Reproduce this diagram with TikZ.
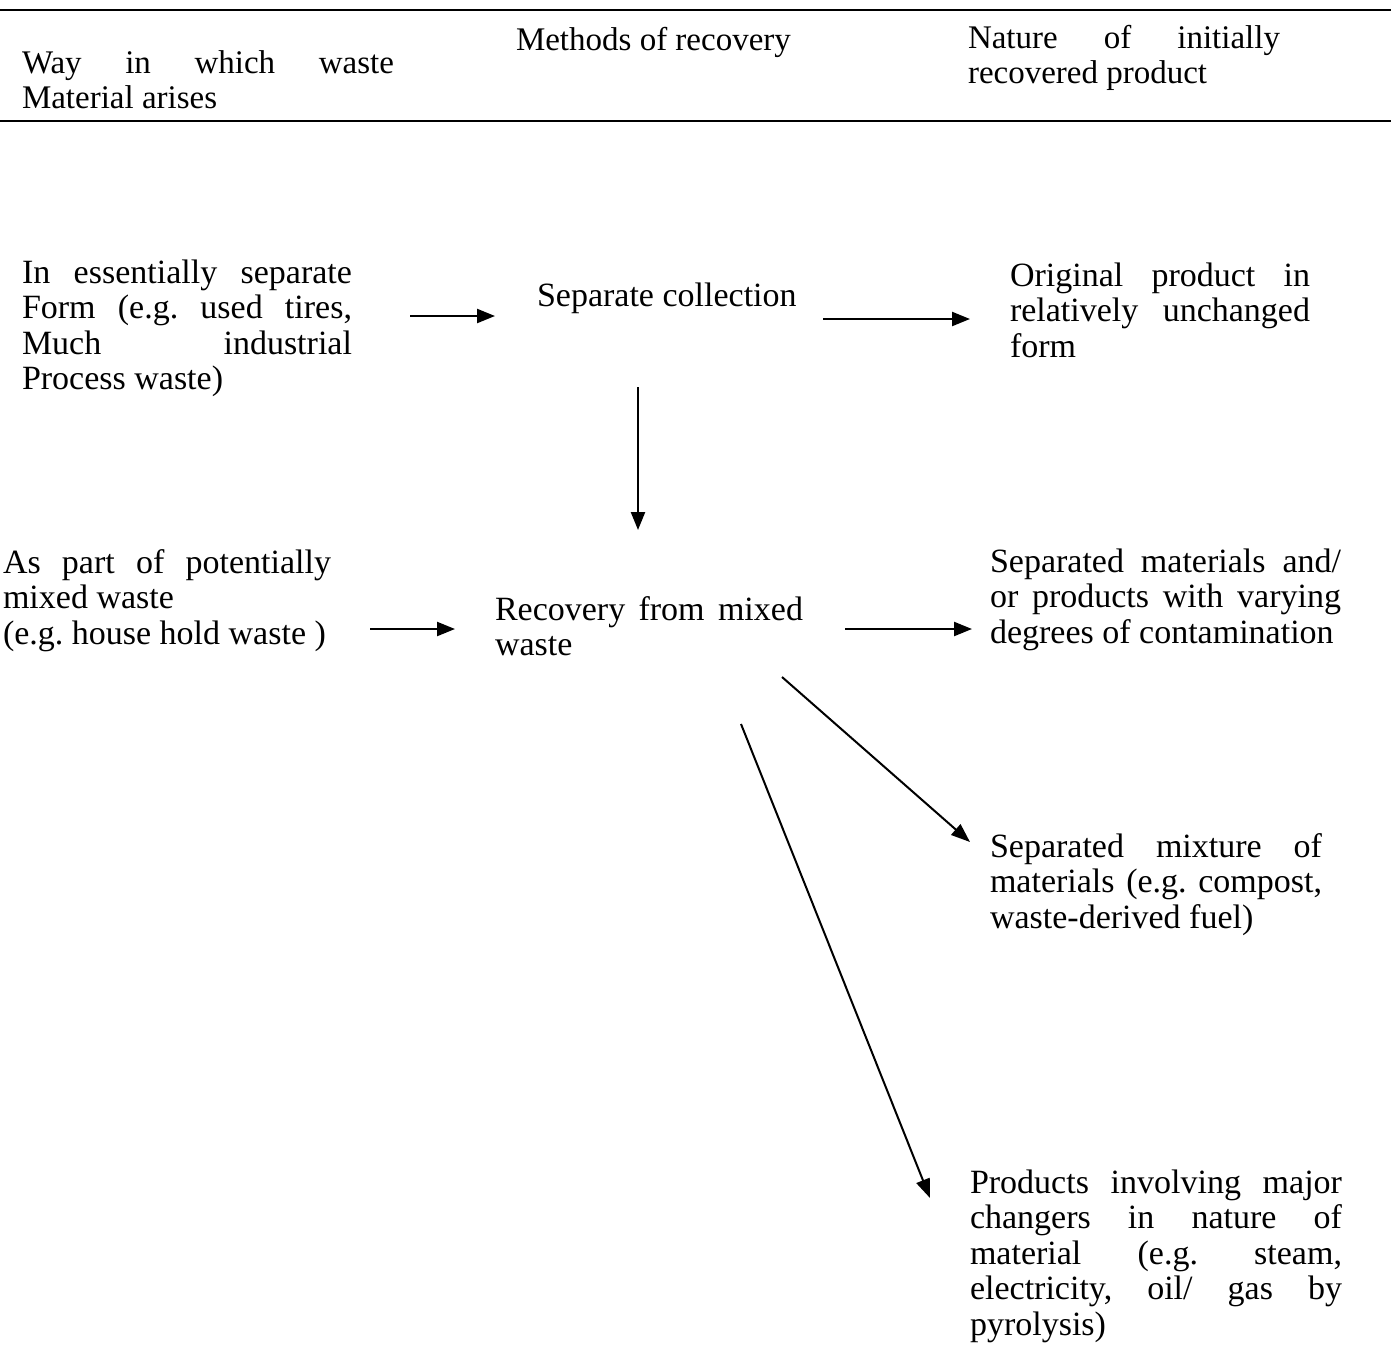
\documentclass[tikz,border=0pt]{standalone}
\usepackage{fontspec}
\setmainfont{Liberation Serif}
\usetikzlibrary{arrows.meta}
\frenchspacing
\tikzset{
  txt/.style={anchor=base west, inner sep=0pt, outer sep=0pt, align=justify,
    font=\fontsize{34}{35.5}\selectfont\frenchspacing},
  hdr/.style={txt, font=\fontsize{33}{35.5}\selectfont\frenchspacing},
  rule/.style={line width=2.4pt},
  arr/.style={line width=2.3pt, -{Triangle[length=18pt,width=14pt]}},
  thinarr/.style={line width=2pt, -{Triangle[length=19pt,width=14pt]}}
}
\begin{document}
\begin{tikzpicture}[x=1pt,y=-1pt]
\useasboundingbox (0,0) rectangle (1391,1360);
% table rules
\coordinate (r1a) at (0,10); \coordinate (r1b) at (1391,10);
\coordinate (r2a) at (0,121); \coordinate (r2b) at (1391,121);
\draw[rule] (r1a) -- (r1b);
\draw[rule] (r2a) -- (r2b);
% headers
\node[hdr, text width=372pt] (h1) at (22,73) {Way in which waste\linebreak Material arises\par};
\node[hdr] (h2) at (516,50) {Methods of recovery};
\node[hdr, text width=312pt] (h3) at (968,48) {Nature of initially\linebreak recovered product\par};
% left column
\node[txt, text width=330pt] (l1) at (22,283) {In essentially separate\linebreak Form (e.g. used tires,\linebreak Much industrial\linebreak Process waste)\par};
\node[txt, text width=328pt] (l2) at (3,573) {As part of potentially\linebreak mixed waste\\(e.g. house hold waste )\par};
% middle column
\node[txt] (m1) at (537,306) {Separate collection};
\node[txt, text width=308pt] (m2) at (495,620) {Recovery from mixed\linebreak waste\par};
% right column
\node[txt, text width=300pt] (p1) at (1010,286) {Original product in\linebreak relatively unchanged\linebreak form\par};
\node[txt, text width=351pt] (p2) at (990,572) {Separated materials and/\linebreak or products with varying\linebreak degrees of contamination\par};
\node[txt, text width=332pt] (p3) at (990,857) {Separated mixture of\linebreak materials (e.g. compost,\linebreak waste-derived fuel)\par};
\node[txt, text width=372pt] (p4) at (970,1193) {Products involving major\linebreak changers in nature of\linebreak material (e.g. steam,\linebreak electricity, oil/ gas by\linebreak pyrolysis)\par};
% arrow end points
\coordinate (a1s) at (410,316); \coordinate (a1e) at (495,316);
\coordinate (a2s) at (823,319); \coordinate (a2e) at (970,319);
\coordinate (a3s) at (638,387); \coordinate (a3e) at (638,530);
\coordinate (a4s) at (370,629); \coordinate (a4e) at (455,629);
\coordinate (a5s) at (845,629); \coordinate (a5e) at (972,629);
\coordinate (a6s) at (782,677); \coordinate (a6e) at (970,842);
\coordinate (a7s) at (741,724); \coordinate (a7e) at (930,1198);
\draw[arr] (a1s) -- (a1e);
\draw[arr] (a2s) -- (a2e);
\draw[arr] (a3s) -- (a3e);
\draw[arr] (a4s) -- (a4e);
\draw[arr] (a5s) -- (a5e);
\draw[thinarr] (a6s) -- (a6e);
\draw[thinarr] (a7s) -- (a7e);
\end{tikzpicture}
\end{document}
